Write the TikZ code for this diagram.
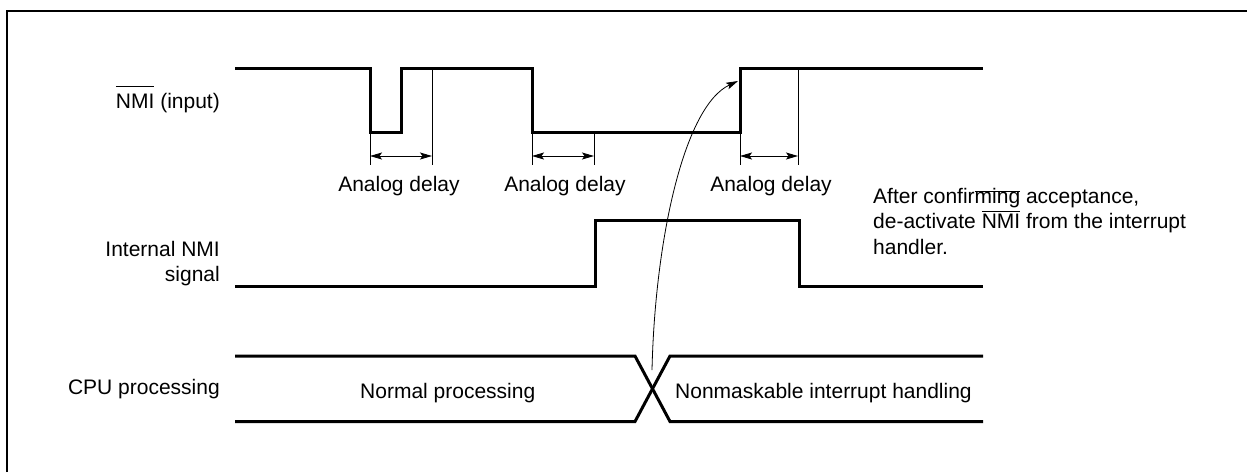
\documentclass[tikz,border=0pt]{standalone}
\usepackage{fontspec}
\setmainfont{Liberation Sans}
\usetikzlibrary{arrows.meta}
\newcommand{\ovlat}[2]{\setbox0\hbox{#2}\rlap{\raisebox{#1}{\rule{\wd0}{0.9pt}}}\box0\relax}
\tikzset{
  sig/.style={line width=3pt, line join=miter},
  thin/.style={line width=0.9pt},
  frame/.style={line width=1.6pt},
  dim/.style={line width=0.9pt, {Stealth[length=12pt,width=7pt,inset=2.5pt]}-{Stealth[length=12pt,width=7pt,inset=2.5pt]}},
  lbl/.style={inner sep=0pt, font=\fontsize{21}{25}\selectfont},
  curvearrow/.style={line width=0.8pt, -{Stealth[length=12pt,width=7pt,inset=2.5pt]}}
}
\begin{document}
\begin{tikzpicture}[x=1pt,y=-1pt]
\useasboundingbox (0,0) rectangle (1247,472);
% frame (top and left edges)
\draw[frame] (7,472) -- (7,11) -- (1247,11);

% labels on the left
\node[lbl, anchor=base east] (lnmi) at (220,108) {\ovlat{21.5pt}{NMI} (input)};
\node[lbl, anchor=base east] (lint1) at (220,256) {Internal NMI};
\node[lbl, anchor=base east] (lint2) at (220,281) {signal};
\node[lbl, anchor=base east] (lcpu) at (220,394) {CPU processing};

% NMI input waveform
\draw[sig] (235,68) -- (370,68) -- (370,132) -- (401,132) -- (401,68) -- (532,68) -- (532,132) -- (740,132) -- (740,68) -- (983,68);

% analog delay marks
\coordinate (a1) at (370,156); \coordinate (b1) at (432,156);
\coordinate (a2) at (532,156); \coordinate (b2) at (594,156);
\coordinate (a3) at (740,156); \coordinate (b3) at (798,156);
\draw[thin] (370,132) -- (370,165);
\draw[thin] (432,68) -- (432,165);
\draw[thin] (532,132) -- (532,165);
\draw[thin] (594,132) -- (594,165);
\draw[thin] (740,132) -- (740,165);
\draw[thin] (798,68) -- (798,165);
\draw[dim] (a1) -- (b1);
\draw[dim] (a2) -- (b2);
\draw[dim] (a3) -- (b3);
\node[lbl, anchor=base] (d1) at (399,191.5) {Analog delay};
\node[lbl, anchor=base] (d2) at (565,191.5) {Analog delay};
\node[lbl, anchor=base] (d3) at (771,191.5) {Analog delay};

% internal NMI signal
\draw[sig] (235,286) -- (595,286) -- (595,220) -- (799,220) -- (799,286) -- (983,286);

% CPU processing bus
\draw[sig] (235,356) -- (635,356) -- (670,421.5) -- (983,421.5);
\draw[sig] (235,421.5) -- (635,421.5) -- (670,356) -- (983,356);
\node[lbl, anchor=base west] (np) at (360,398) {Normal processing};
\node[lbl, anchor=base west] (ni) at (675,398) {Nonmaskable interrupt handling};

% curved arrow
\coordinate (cross) at (652,370);
\coordinate (edge) at (738,81);
\draw[curvearrow] (cross) .. controls (655,240) and (684,106) .. (edge);

% note on the right
\node[lbl, anchor=base west] (r1) at (873,203) {After confir\ovlat{11.5pt}{ming} acceptance,};
\node[lbl, anchor=base west] (r2) at (873,228.5) {de-activate \ovlat{17pt}{NMI} from the interrupt};
\node[lbl, anchor=base west] (r3) at (873,254) {handler.};
\end{tikzpicture}
\end{document}
